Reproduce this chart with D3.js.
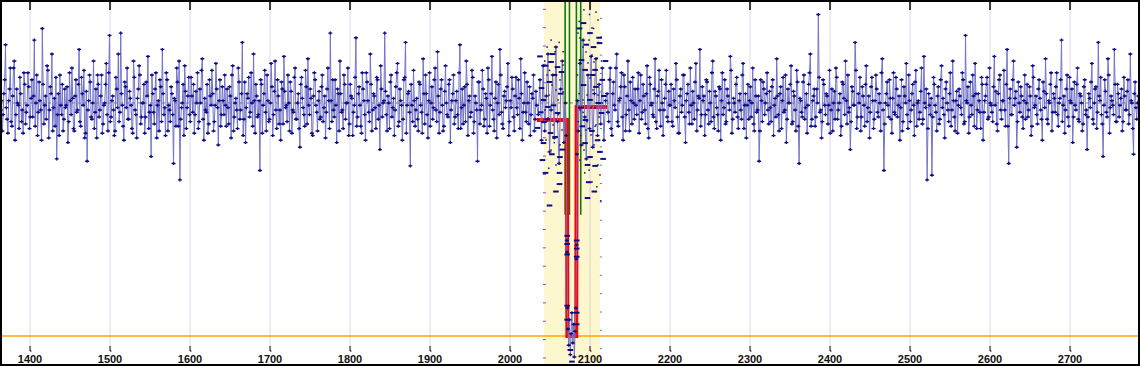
<!DOCTYPE html>
<html>
<head>
<meta charset="utf-8">
<script src="https://cdn.jsdelivr.net/npm/d3@7"></script>
<style>
  body { margin: 0; background: #fff; }
  svg { display: block; }
  .lbl { font: bold 11px "Liberation Sans", Arial, sans-serif; fill: #111; }
</style>
</head>
<body>
<svg id="plot" width="1140" height="366"></svg>
<script>
// x axis ticks (time)
const xTicks = [1400,1500,1600,1700,1800,1900,2000,2100,2200,2300,2400,2500,2600,2700]

// flux in % of mean; even times from preStart / postStart, odd times one unit later
const preStart = 1364
const postStart = 2122
const step = 2
const preFlux = [
97,88,104,125,93,101,115,90,115,84,106,99,111,92,87,108,96,113,89,102,
94,127,100,86,109,97,132,91,103,116,85,107,121,98,90,76,104,112,95,88,
106,99,83,113,95,102,88,110,97,123,90,104,114,87,75,101,109,93,118,96,
85,108,97,112,91,100,117,88,129,94,103,86,111,98,92,130,99,84,107,115,
93,102,89,118,97,85,106,112,94,100,87,109,120,96,77,104,91,113,99,88,
107,123,95,86,110,99,92,104,74,101,115,90,67,98,108,116,89,103,95,111,
96,87,105,113,92,100,119,84,97,108,91,103,114,88,99,106,82,110,95,101,
112,90,98,107,85,116,94,102,89,109,97,126,93,83,104,111,96,100,121,87,
103,95,71,108,99,114,88,101,93,117,86,105,97,110,91,84,106,120,98,92,
100,109,87,96,115,93,104,81,111,98,90,107,119,95,102,86,113,99,88,105,
94,112,98,85,106,101,130,92,97,110,83,104,118,96,89,108,100,115,91,103,
86,99,128,94,107,90,113,101,84,109,96,121,88,104,98,111,93,80,106,100,
130,95,103,89,112,98,86,107,117,92,101,84,110,126,99,105,73,99,114,90,
102,88,108,96,119,91,104,85,113,100,93,110,97,122,87,106,99,90,116,95,
108,83,101,112,94,105,89,125,98,91,107,118,86,103,96,111,92,100,75,109,
97,114,90,104,87,110,99,120,93,102,85,108,123,96,89,105,101,117,92,98,
106,88,111,95,102,119,84,100,96,109,91,86,104,112,93,99]
const preFluxOdd = [
101,95,110,98,87,106,92,103,118,95,100,89,104,97,113,91,99,107,94,110,
103,90,112,96,101,84,108,99,93,114,97,104,88,102,111,95,86,99,108,93,
98,107,92,101,115,89,103,96,108,92,111,99,85,105,97,112,94,100,89,106,
112,94,103,87,99,108,95,113,92,101,97,88,106,121,96,104,90,109,98,93,
105,99,87,111,95,102,116,91,100,108,94,103,89,99,112,96,106,85,101,110,
92,104,98,113,88,97,107,95,102,90,109,118,93,100,86,105,98,111,92,103,
108,95,100,89,106,114,93,102,96,87,110,99,104,92,117,98,101,90,107,95,
99,106,91,103,112,88,100,97,115,93,104,86,109,98,102,94,113,90,101,108,
94,101,110,87,104,96,112,92,100,107,95,118,89,103,97,109,91,105,99,112,
88,105,97,111,93,100,89,108,102,95,114,91,99,106,87,103,110,96,101,93,
107,92,103,96,115,89,101,110,94,99,106,88,104,97,112,93,100,86,108,102,
96,111,90,104,99,87,106,95,113,101,92,108,97,103,89,110,99,116,94,101,
105,88,100,109,94,102,97,113,90,106,99,93,111,87,104,96,108,92,101,97,
93,109,99,87,104,112,95,101,90,107,98,115,92,103,96,110,88,105,100,94,
110,97,104,91,101,95,113,89,106,99,92,108,101,94,114,87,103,97,109,91,
99,106,93,102,115,90,104,97,88,109,100,95,112,91,103,98,107,86,101,111,
94,103,98,110,89,104,96,113,92,100,107,95,102,88,105]
const postFlux = [
104,92,115,86,109,97,121,90,102,113,84,107,95,118,88,101,111,93,99,106,
87,112,96,103,91,116,85,108,100,94,119,89,105,97,110,86,102,114,92,99,
108,90,101,117,94,87,106,99,112,83,104,96,115,91,100,109,88,103,123,95,
101,86,110,97,105,92,118,89,103,95,107,84,113,98,91,106,100,120,87,102,
96,111,89,104,93,117,99,85,108,101,94,115,88,103,97,75,110,92,106,100,
113,91,98,107,86,102,119,95,104,89,111,97,83,106,100,116,92,103,88,109,
74,101,94,112,98,87,108,121,93,103,90,106,138,96,85,110,99,104,91,114,
97,88,105,115,93,100,86,109,102,118,91,96,80,107,99,126,89,104,111,94,
103,90,116,98,85,107,101,93,112,96,104,88,119,71,100,109,94,102,87,113,
95,106,99,84,110,92,103,117,89,101,97,108,86,114,100,93,105,91,120,98,
67,104,95,69,111,99,88,107,93,116,102,85,109,97,104,90,118,94,101,87,
106,98,113,91,129,100,87,109,95,103,117,89,104,96,111,84,101,108,93,115,
99,92,120,105,88,110,97,101,114,90,123,74,106,95,118,102,81,109,96,103,
89,112,100,94,107,86,116,98,103,91,110,97,84,105,119,93,101,108,88,104,
96,113,90,102,127,99,87,106,94,111,100,83,109,97,115,92,103,88,107,95,
80,104,98,117,91,106,89,126,101,95,77,110,96,119,87,103,99,123,92,108,
94,102,88,111,97,105,91,121,100,78,109,93,103]
const postFluxOdd = [
96,110,89,104,99,115,92,101,107,94,112,88,103,97,109,91,100,106,95,113,
101,93,108,97,104,89,111,99,95,106,92,103,114,90,100,97,108,94,105,99,
92,106,98,110,87,103,96,112,94,101,108,91,99,105,93,117,97,102,90,107,
103,95,109,91,100,113,94,105,98,88,106,101,95,110,92,103,97,114,93,100,
108,94,101,97,112,89,104,99,93,107,100,91,110,96,103,88,101,109,95,104,
97,105,92,110,99,94,103,88,107,101,96,112,93,100,108,91,105,97,114,90,
102,96,109,93,104,99,113,90,101,106,94,100,111,97,92,108,95,103,99,87,
106,100,93,111,97,104,90,108,95,101,112,98,92,105,99,114,94,100,88,107,
99,108,92,103,96,111,89,101,106,94,100,113,97,91,104,99,110,93,102,96,
111,94,103,98,88,107,100,95,112,92,104,99,109,90,101,96,115,93,100,106,
89,99,102,94,108,96,103,91,110,98,95,106,100,92,113,97,101,88,105,99,
103,95,110,92,101,107,94,99,112,90,104,97,101,89,108,96,103,111,94,100,
96,107,99,91,104,112,93,101,97,108,90,102,95,110,99,105,92,100,107,94,
101,93,108,97,103,90,111,99,95,106,102,93,109,98,104,91,100,113,96,102,
107,95,100,110,92,103,97,112,90,101,106,94,99,108,93,104,100,91,110,97,
94,102,109,93,100,107,96,103,111,91,99,105,94,112,98,101,95,108,92,104,
99,106,92,103,97,110,95,101,89,104,98,100]

// points inside the eclipse window
const eclTime = [2036,2038,2040,2042,2044,2046,2048,2050,2052,2054,2056,2058,2060,2062,2064,2066,2068,2070,
  2071,2071.6,2072,2072.4,2073,2074,2075,2076,2077,2078,2079,2080,2081,2082,2083,2083.5,2083.8,2084.2,2085,2086,
  2088,2090,2092,2094,2096,2098,2100,2102,2104,2106,2108,2110,2112,2114,2116,2118,2120]
const eclFlux = [95,110,84,116,88,103,121,79,97,112,85,124,92,74,106,118,83,100,
  86,41,36,12,3,-4,7,-8,1,10,-3,5,-9,2,12,33,39,78,101,88,
  117,82,127,94,76,112,89,120,81,104,119,86,108,91,115,84,101]

// binned points with wide time bars
const binTime = [2087.5,2051.9,2060,2056.2,2120,2105,2112.5,2040,2042.5,2048,2060,2051.2,2057,2042.5,2063,2041.2,2062.5,
  2094.4,2100.6,2113,2107,2097.5,2092.5,2108,2100.6,2115,2095,2107,2116,2094.4,2090,2100.6,2092.5,2065,2050,2035,2043,
  2062.5,2097.5,2072,2072,2072,2084,2084,2084,2072,2072,2084,2084,2076,2078,
  2038,2045,2054,2064,2047,2055,2039,2066,2053,2045,2058,2050,
  2096,2104,2111,2118,2091,2103,2110,2117,2099,2106,2112,2089]
const binFlux = [132,117.6,115.4,112,118,124,125.7,106.4,101.3,98.3,95.7,87.1,85.4,82.8,76.8,75.5,70,
  82.8,76.8,79,73,73.4,107.7,106.9,101.3,95.7,92.7,114.2,109.9,114.2,118.4,130,134.3,113.3,109,89.3,91.8,
  65.2,59.2,43,39.5,35,41,37.5,34,13,7,10,5,-6,-11,
  120,116,121,104,93,99,96,80,78,70,62,56,
  125,112,100,103,90,88,84,76,66,62,128,98]

// scattered single points
const dotTime = [2085.6,2088.1,2091.9,2095.6,2099.4,2103.1,2105.6,2109.4,2110.6,2108.1,2103.1,2098.1,2100.6,2104.4,
  2110.6,2108.1,2111.9,2091.9,2088.1,2095.6,2101.9,2105.6,2110.6,2113.1,2088.1,2046.9,2049.4,2053.1,2058.1,2063.1,
  2066.9,2044.4,2048.1,2054.4,2060.6,2065.6,2045.6,2051.9,2058.1,2063.1,2066.9,2090.6,2096.9,2106.9,2093.1,2099.4,2103.1,
  2047,2052,2057,2062,2067,2044,2050,2061,2056,2049,2085,2087,2092,2097,2102,2107,2112,2116,2089,2094,
  2109,2114,2087,2093,2100,2105,2111,2097,2115,2086]
const dotFlux = [130,127.9,124,121.9,127,120.6,117.6,119.3,135.6,139,132.2,117.2,110.7,105.6,
  103.4,90.6,84.1,101.3,97,88.4,86.3,82,73.4,69.1,75.5,112,103.4,107.7,105.6,109.9,
  104.7,97,93.6,90.6,101.3,88.4,84.1,79.8,73.4,82,116.3,107.7,103.4,97.9,79.8,71.2,66.1,
  124,127,122,126,122,118,114,95,83,72,112,104,96,92,98,90,94,100,86,70,
  64,58,135,140,138,132,126,114,118,92]

// eclipse model
const modelTime = [2034,2071.8,2072.3,2083.4,2083.9,2122]
const modelFlux = [92.7,92.7,0,0,98.3,98.3]
const contactTime = [2069.5,2074.9,2083.6,2089]
const windowRange = [2043,2113]
const meanFlux = 100

const W = 1140, H = 366
const svg = d3.select('#plot')
const x = d3.scaleLinear().domain([1363.1, 2788.1]).range([0, W])
const y = d3.scaleLinear().domain([-12.88, 144.2]).range([H, 0])

const pre = preFlux.map((f,i)=>({t: preStart+i*step, f}))
  .concat(preFluxOdd.map((f,i)=>({t: preStart+1+i*step, f})))
const post = postFlux.map((f,i)=>({t: postStart+i*step, f}))
  .concat(postFluxOdd.map((f,i)=>({t: postStart+1+i*step, f})))
const series = pre.concat(eclTime.map((t,i)=>({t, f: eclFlux[i]})), post)
  .sort((a,b)=>a.t-b.t)

// highlighted window
svg.append('rect')
  .attr('x', x(windowRange[0])).attr('y', 2)
  .attr('width', x(windowRange[1])-x(windowRange[0])).attr('height', H-4)
  .attr('fill', '#fdf7cf')

// grid
svg.selectAll('.grid').data(xTicks).enter().append('line')
  .attr('x1', d=>x(d)+0.5).attr('x2', d=>x(d)+0.5)
  .attr('y1', 2).attr('y2', 346)
  .attr('stroke', 'rgba(190,165,205,0.45)').attr('stroke-width', 1)

// small scale marks on window edges
const leftMarks = d3.range(140.2, -12, -7.875)
const rightMarks = d3.range(136.3, -12, -7.875)
svg.selectAll('.lm').data(leftMarks).enter().append('line')
  .attr('x1', x(windowRange[0])-1).attr('x2', x(windowRange[0])+2)
  .attr('y1', d=>y(d)).attr('y2', d=>y(d))
  .attr('stroke', '#9a3be0').attr('stroke-width', 1)
svg.selectAll('.rm').data(rightMarks).enter().append('line')
  .attr('x1', x(windowRange[1])).attr('x2', x(windowRange[1])+2)
  .attr('y1', d=>y(d)).attr('y2', d=>y(d))
  .attr('stroke', '#1a9a8a').attr('stroke-width', 1)

// mean line
svg.append('line')
  .attr('x1', 0).attr('x2', W)
  .attr('y1', y(meanFlux)).attr('y2', y(meanFlux))
  .attr('stroke', '#777').attr('stroke-dasharray', '3,3').attr('stroke-width', 1)

// zero line
svg.append('line')
  .attr('x1', 0).attr('x2', W)
  .attr('y1', y(0)).attr('y2', y(0))
  .attr('stroke', '#ffa500').attr('stroke-width', 1.5)

// contact lines
svg.selectAll('.contact').data(contactTime).enter().append('line')
  .attr('x1', d=>x(d)).attr('x2', d=>x(d))
  .attr('y1', 2).attr('y2', y(52))
  .attr('stroke', '#0a7a0a').attr('stroke-width', 1.6)

// model
const line = d3.line().x(d=>x(d.t)).y(d=>y(d.f))
svg.append('path')
  .datum(modelTime.map((t,i)=>({t, f: modelFlux[i]})))
  .attr('d', line)
  .attr('fill', 'none').attr('stroke', '#ff0000').attr('stroke-width', 4)

// data line
svg.append('path')
  .datum(series)
  .attr('d', line)
  .attr('fill', 'none').attr('stroke', '#7474c8').attr('stroke-width', 1)

// markers
svg.selectAll('.pt').data(series).enter().append('path')
  .attr('transform', d=>`translate(${x(d.t)},${y(d.f)})`)
  .attr('d', 'M-2,0H2M0,-1.5V1.5')
  .attr('stroke', '#0c0c86').attr('stroke-width', 1.4).attr('fill', 'none')

// binned points
svg.selectAll('.bin').data(binTime).enter().append('line')
  .attr('x1', d=>x(d-3.5)).attr('x2', d=>x(d+3.5))
  .attr('y1', (d,i)=>y(binFlux[i])).attr('y2', (d,i)=>y(binFlux[i]))
  .attr('stroke', '#0c0c86').attr('stroke-width', 2)

// single points
svg.selectAll('.dot').data(dotTime).enter().append('rect')
  .attr('x', d=>x(d)-0.75).attr('y', (d,i)=>y(dotFlux[i])-0.75)
  .attr('width', 1.5).attr('height', 1.5)
  .attr('fill', '#0c0c86')

// ticks top and bottom
svg.selectAll('.tt').data(xTicks).enter().append('line')
  .attr('x1', d=>x(d)+0.5).attr('x2', d=>x(d)+0.5)
  .attr('y1', 0).attr('y2', 10)
  .attr('stroke', '#000').attr('stroke-width', 1.5)
svg.selectAll('.bt').data(xTicks).enter().append('path')
  .attr('d', d=>`M${x(d)+0.5},346V351H${x(d)+2}`)
  .attr('stroke', '#000').attr('stroke-width', 1).attr('fill', 'none')
svg.selectAll('.lbl').data(xTicks).enter().append('text')
  .attr('class', 'lbl')
  .attr('x', d=>x(d)+0.5).attr('y', 363)
  .attr('text-anchor', 'middle')
  .text(d=>d)

// frame
svg.append('rect')
  .attr('x', 1).attr('y', 1).attr('width', W-2).attr('height', H-2)
  .attr('fill', 'none').attr('stroke', '#000').attr('stroke-width', 2)
</script>
</body>
</html>
